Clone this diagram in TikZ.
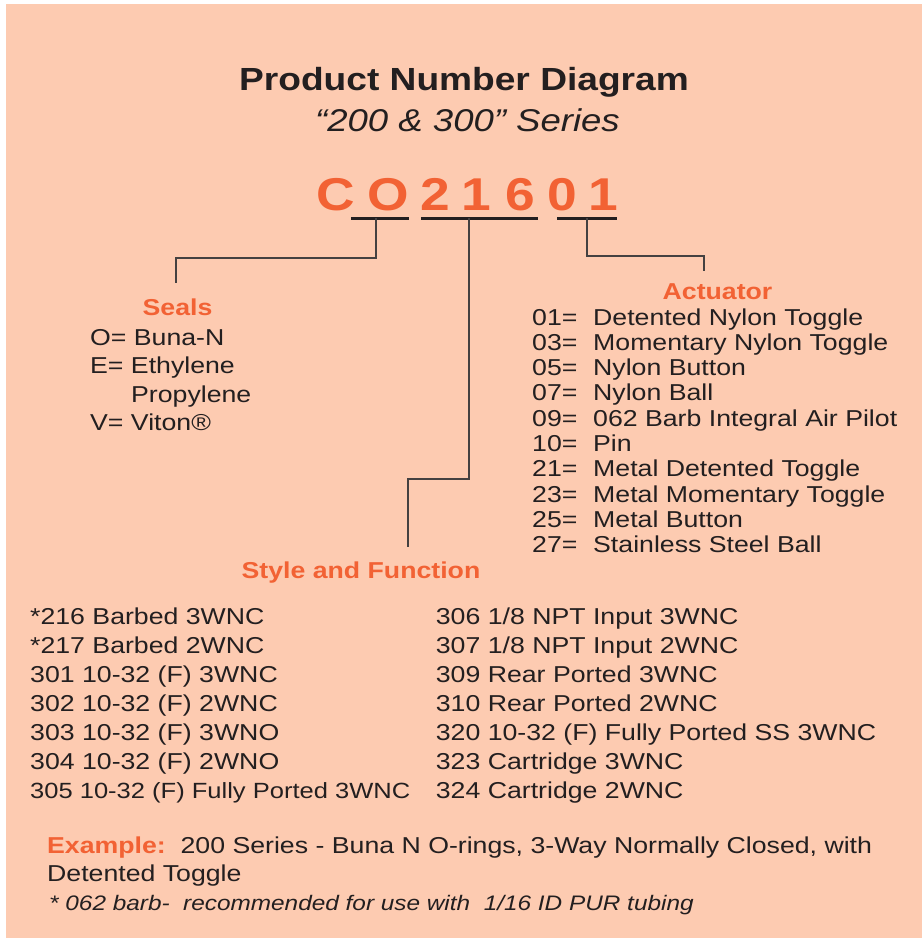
\documentclass[tikz,border=0pt]{standalone}
\usepackage{fontspec}
\setmainfont{Liberation Sans}[FakeStretch=1.16]
\definecolor{peach}{RGB}{253,203,177}
\definecolor{accent}{RGB}{242,98,52}
\definecolor{ink}{RGB}{35,31,32}
\begin{document}
\begin{tikzpicture}[x=1pt, y=-1pt,
  txt/.style={inner sep=0pt, text=ink, anchor=base west, font=\fontsize{23}{28}\selectfont},
  head/.style={inner sep=0pt, text=accent, anchor=base, font=\bfseries\fontsize{23}{28}\selectfont},
  digit/.style={inner sep=0pt, text=accent, anchor=base, font=\bfseries\fontsize{46}{50}\selectfont},
  bar/.style={line width=3pt, draw=ink},
  link/.style={line width=1.3pt, draw=ink!85}]
  \useasboundingbox (0,0) rectangle (922,938);
  \fill[white] (0,0) rectangle (922,938);
  \fill[peach] (6,4) rectangle (922,938);

  \node[anchor=base, inner sep=0pt, text=ink, font=\bfseries\fontsize{32}{36}\selectfont] (title) at (464,90.7) {Product Number Diagram};
  \node[anchor=base, inner sep=0pt, text=ink, font=\itshape\fontsize{31.5}{36}\selectfont] (subtitle) at (467.5,131.7) {“200 \& 300” Series};

  \foreach \ch/\cx [count=\i] in {C/336, O/388, 2/435.5, 1/476, 6/520.5, 0/562.5, 1/603}
    \node[digit] (d\i) at (\cx,210) {\ch};

  \draw[bar] (351,218) -- (409,218);
  \draw[bar] (421,218) -- (538,218);
  \draw[bar] (557,218) -- (617,218);

  \coordinate (sealtap) at (376,218);
  \coordinate (styletap) at (469,218);
  \coordinate (acttap) at (587,218);
  \coordinate (sealend) at (176,283);
  \coordinate (styleend) at (408,547);
  \coordinate (actend) at (704,271);
  \draw[link] (sealtap) -- ++(0,40) -| (sealend);
  \draw[link] (styletap) -- ++(0,261) -| (styleend);
  \draw[link] (acttap) -- ++(0,38) -| (actend);

  \node[head] (seals) at (177.5,315.7) {Seals};
  \node[txt] (s1) at (90,345) {O= Buna-N};
  \node[txt] (s2) at (90,373.6) {E= Ethylene};
  \node[txt] (s3) at (131,402.2) {Propylene};
  \node[txt] (s4) at (90,430.8) {V= Viton®};

  \node[head] (actuator) at (717.5,299.3) {Actuator};
  \foreach \code/\desc [count=\i] in {01/Detented Nylon Toggle, 03/Momentary Nylon Toggle,
      05/Nylon Button, 07/Nylon Ball, 09/062 Barb Integral Air Pilot, 10/Pin,
      21/Metal Detented Toggle, 23/Metal Momentary Toggle, 25/Metal Button,
      27/Stainless Steel Ball} {
    \node[txt] (ac\i) at (532,{325+25.3*(\i-1)}) {\code=};
    \node[txt] (ad\i) at (593,{325+25.3*(\i-1)}) {\desc};
  }

  \node[head] (style) at (361,578) {Style and Function};
  \foreach \item [count=\i] in {*216 Barbed 3WNC, *217 Barbed 2WNC, 301 10-32 (F) 3WNC,
      302 10-32 (F) 2WNC, 303 10-32 (F) 3WNO, 304 10-32 (F) 2WNO}
    \node[txt] (sl\i) at (30,{624+29*(\i-1)}) {\item};
  \node[txt, font=\fontsize{22}{28}\selectfont] (sl7) at (30,798) {305 10-32 (F) Fully Ported 3WNC};
  \foreach \item [count=\i] in {306 1/8 NPT Input 3WNC, 307 1/8 NPT Input 2WNC, 309 Rear Ported 3WNC,
      310 Rear Ported 2WNC, 320 10-32 (F) Fully Ported SS 3WNC, 323 Cartridge 3WNC, 324 Cartridge 2WNC}
    \node[txt] (sr\i) at (435.7,{624+29*(\i-1)}) {\item};

  \node[txt] (example) at (47,853.3) {\textcolor{accent}{\bfseries Example:}\ \ 200 Series - Buna N O-rings, 3-Way Normally Closed, with};
  \node[txt] (example2) at (47,881.7) {Detented Toggle};
  \node[txt, font=\itshape\fontsize{21}{24}\selectfont] (note) at (49,910) {* 062 barb-\ \ recommended for use with\ \ 1/16 ID PUR tubing};
\end{tikzpicture}
\end{document}
